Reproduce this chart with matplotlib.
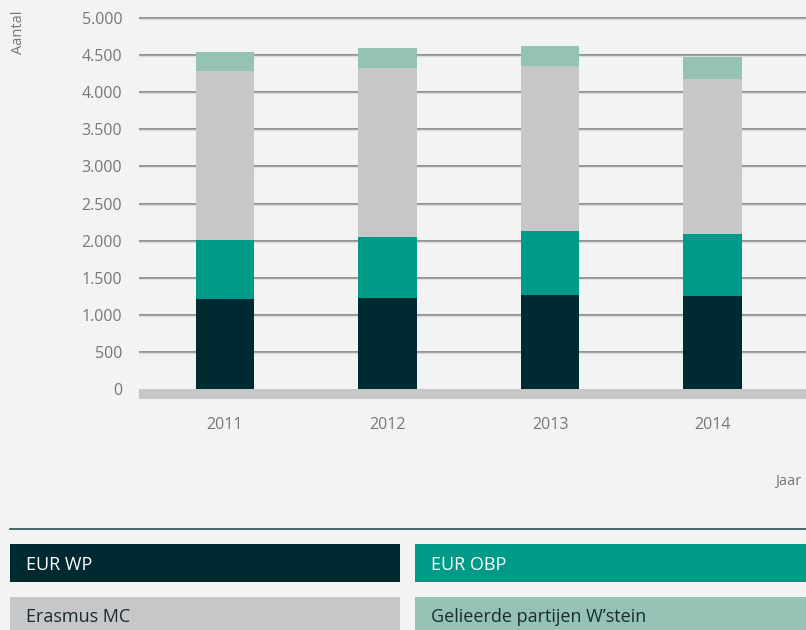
import matplotlib
matplotlib.use("Agg")
import matplotlib.pyplot as plt
from matplotlib.patches import Rectangle
from matplotlib.lines import Line2D
from matplotlib.ticker import FuncFormatter

plt.rcParams['font.family'] = ['Open Sans', 'DejaVu Sans']

years = ["2011", "2012", "2013", "2014"]
eur_wp = [1210, 1224, 1265, 1251]
eur_obp = [797, 824, 864, 837]
erasmus_mc = [2282, 2281, 2227, 2093]
gelieerde = [256, 270, 270, 297]

series_names = ["EUR WP", "EUR OBP", "Erasmus MC", "Gelieerde partijen W\u2019stein"]
colors = ["#002a32", "#009a88", "#c6c7c8", "#94c2b4"]
yticks = [0, 500, 1000, 1500, 2000, 2500, 3000, 3500, 4000, 4500, 5000]

BG = "#f2f4f3"
W, H = 806, 630
fig = plt.figure(figsize=(W / 100, H / 100), dpi=100, facecolor=BG)

# axes placement (pixels)
ax_left, ax_right = 139, 806
ax_top_px, ax_bot_px = 15.8, 399.3
ax = fig.add_axes([ax_left / W, 1 - ax_bot_px / H, (ax_right - ax_left) / W, (ax_bot_px - ax_top_px) / H])
ax.set_facecolor(BG)

x = list(range(len(years)))
series = [eur_wp, eur_obp, erasmus_mc, gelieerde]
bottom = [0] * len(years)
for vals, col in zip(series, colors):
    ax.bar(x, vals, width=0.36, bottom=bottom, color=col, zorder=3, linewidth=0)
    bottom = [b + v for b, v in zip(bottom, vals)]

ax.set_xlim(-0.529, 3.575)
ax.set_ylim(-139, 5030)

# gridlines
for t in yticks[1:]:
    ax.axhline(t, color="#8a8a8a", linewidth=1.3, zorder=1)
    ax.axhline(t - 14, color="#dcdedd", linewidth=1.0, zorder=1)
# baseline band
ax.axhspan(-139, 0, color="#c6c7c8", zorder=2, linewidth=0)

ax.set_yticks(yticks)
ax.yaxis.set_major_formatter(FuncFormatter(lambda v, p: f"{int(v):,}".replace(",", ".")))
ax.set_xticks(x)
ax.set_xticklabels(years)
ax.tick_params(axis='y', length=0, pad=12, labelsize=11.5, labelcolor="#777777")
ax.tick_params(axis='x', length=0, pad=13, labelsize=11.5, labelcolor="#777777")
for s in ax.spines.values():
    s.set_visible(False)

# axis titles
fig.text(18 / W, 1 - 11 / H, "Aantal", rotation=90, ha='center', va='top', fontsize=10.5, color="#777777")
fig.text(775 / W, 1 - 481 / H, "Jaar", ha='left', va='center', fontsize=10.5, color="#777777")

# separator line
fig.add_artist(Line2D([10 / W, 1.0], [1 - 528.5 / H] * 2, color="#2e4d53", linewidth=1.2))

# legend boxes: (x, y, w, h, fill, text colour, baseline y)
boxes = [
    (10, 544, 390, 38, colors[0], "white", 570.5),
    (415, 544, 391, 38, colors[1], "white", 570.5),
    (10, 597, 390, 33, colors[2], "#1c2b2e", 622),
    (415, 597, 391, 33, colors[3], "#1c2b2e", 622),
]
for (bx, by, bw, bh, col, tcol, base), name in zip(boxes, series_names):
    fig.add_artist(Rectangle((bx / W, 1 - (by + bh) / H), bw / W, bh / H,
                             transform=fig.transFigure, facecolor=col, edgecolor='none'))
    fig.text((bx + 16) / W, 1 - base / H, name, ha='left', va='baseline', fontsize=13, color=tcol)

fig.savefig("out.png", dpi=100, facecolor=BG)
